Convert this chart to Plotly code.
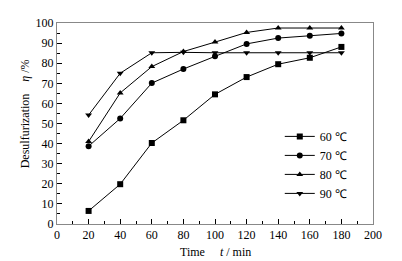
import plotly.graph_objects as go

t = [20, 40, 60, 80, 100, 120, 140, 160, 180]
s60 = [6.5, 19.8, 40.3, 51.6, 64.5, 73.1, 79.5, 82.7, 88.1]
s70 = [38.7, 52.5, 70.1, 77.1, 83.4, 89.6, 92.5, 93.6, 94.8]
s80 = [41.0, 65.2, 78.3, 85.8, 90.5, 95.3, 97.5, 97.5, 97.5]
s90 = [54.2, 75.0, 85.2, 85.4, 85.2, 85.2, 85.2, 85.2, 85.2]
names = ["60 ℃", "70 ℃", "80 ℃", "90 ℃"]
symbols = ["square", "circle", "triangle-up", "triangle-down"]

FONT = "Liberation Serif"

fig = go.Figure()
for y, n, s in zip([s60, s70, s80, s90], names, symbols):
    fig.add_trace(go.Scatter(
        x=t, y=y, name=n, mode="lines+markers",
        line=dict(color="black", width=1),
        marker=dict(symbol=s, size=6, color="black"),
    ))

fig.update_layout(
    width=394, height=253,
    margin=dict(l=49, r=29, t=8, b=37),
    paper_bgcolor="white", plot_bgcolor="white",
    font=dict(family=FONT, size=12, color="black"),
    showlegend=True,
    legend=dict(x=0.705, y=0.508, xanchor="left", yanchor="top",
                bgcolor="rgba(0,0,0,0)", font=dict(size=12, family=FONT),
                itemwidth=30, tracegroupgap=0),
    xaxis=dict(range=[0, 200], tickvals=list(range(0, 201, 20)),
               ticks="inside", ticklen=5, tickcolor="black",
               minor=dict(ticks="inside", ticklen=3, dtick=10, tick0=0, tickcolor="black"),
               showgrid=False, zeroline=False,
               showline=True, linecolor="#888888", linewidth=1, mirror=True,
               tickfont=dict(size=12, family=FONT)),
    yaxis=dict(range=[0, 100], tickvals=list(range(0, 101, 10)),
               ticks="inside", ticklen=5, tickcolor="black",
               minor=dict(ticks="inside", ticklen=3, dtick=5, tick0=0, tickcolor="black"),
               showgrid=False, zeroline=False,
               showline=True, linecolor="#888888", linewidth=1, mirror=True,
               tickfont=dict(size=12, family=FONT)),
    annotations=[
        dict(text="Time&nbsp;&nbsp;&nbsp;&nbsp;&nbsp;<i>t</i> / min", xref="paper", yref="paper",
             x=0.5, y=-0.095, xanchor="center", yanchor="top", showarrow=False,
             font=dict(size=12, family=FONT)),
        dict(text="Desulfurization&nbsp;&nbsp;&nbsp;&nbsp;<i>η</i> /%", xref="paper", yref="paper",
             x=-0.07, y=0.55, xanchor="right", yanchor="middle", textangle=-90,
             showarrow=False, font=dict(size=12, family=FONT)),
    ],
)

fig.write_html("out.html")
